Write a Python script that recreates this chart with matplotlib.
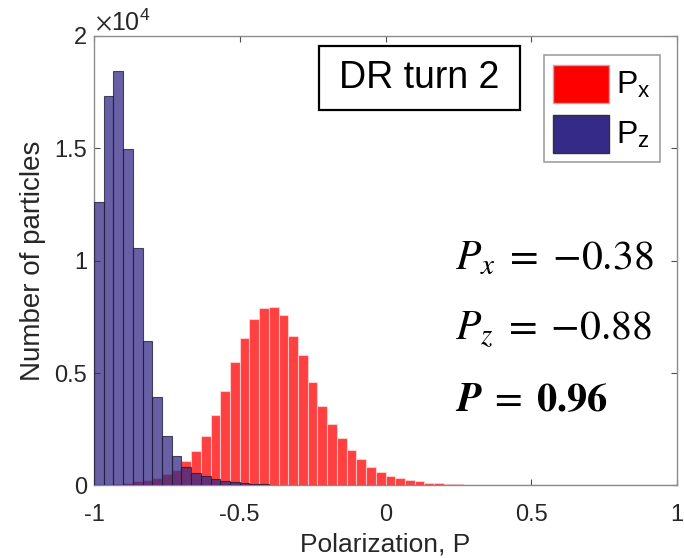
import numpy as np
import matplotlib
matplotlib.use("Agg")
import matplotlib.pyplot as plt
from matplotlib.patches import Patch, Rectangle

# histogram counts, 60 bins of width 1/30 between -1 and 1
bin_edges = np.linspace(-1, 1, 61)

counts_px = [20, 40, 80, 130, 180, 240, 340, 530, 700, 1070,
             1530, 2220, 3150, 4220, 5490, 6580, 7420, 7880, 7950, 7600,
             6650, 5810, 4590, 3530, 2740, 2130, 1560, 1160, 810, 620,
             420, 320, 240, 180, 130, 100, 70, 50, 35, 25,
             18, 12, 8, 5, 3, 0, 0, 0, 0, 0,
             0, 0, 0, 0, 0, 0, 0, 0, 0, 0]

counts_pz = [12600, 17330, 18460, 14960, 10550, 6440, 3920, 2180, 1310, 830,
             560, 400, 280, 200, 140, 100, 75, 55, 40, 30,
             22, 16, 12, 8, 6, 4, 3, 2, 1, 0,
             0, 0, 0, 0, 0, 0, 0, 0, 0, 0,
             0, 0, 0, 0, 0, 0, 0, 0, 0, 0,
             0, 0, 0, 0, 0, 0, 0, 0, 0, 0]

y_ticks = [0, 5000, 10000, 15000, 20000]
y_ticklabels = ["0", "0.5", "1", "1.5", "2"]
x_ticks = [-1, -0.5, 0, 0.5, 1]
x_ticklabels = ["-1", "-0.5", "0", "0.5", "1"]

red = (1.0, 0.0, 0.0)
navy = (0.2081, 0.1663, 0.5292)

plt.rcParams['font.family'] = ['Liberation Sans', 'DejaVu Sans']
plt.rcParams['mathtext.fontset'] = 'stix'

fig = plt.figure(figsize=(6.84, 5.58), dpi=100)
ax = fig.add_axes([0.1374, 0.130, 0.8524, 0.8055])

centers = 0.5 * (bin_edges[:-1] + bin_edges[1:])
width = bin_edges[1] - bin_edges[0]

ax.bar(centers, counts_px, width=width, color=red, alpha=0.75,
       edgecolor=(1, 0.85, 0.85), linewidth=0.8, zorder=2)
ax.bar(centers, counts_pz, width=width, color=navy, alpha=0.75,
       edgecolor=(0.1, 0.1, 0.2), linewidth=0.8, zorder=3)

ax.set_xlim(-1, 1)
ax.set_ylim(0, 20000)
ax.set_xticks(x_ticks)
ax.set_xticklabels(x_ticklabels)
ax.set_yticks(y_ticks)
ax.set_yticklabels(y_ticklabels)
ax.tick_params(direction='in', length=4, width=0.8, colors='#4d4d4d',
               labelsize=17, top=True, right=True)
ax.tick_params(axis='x', pad=13)
ax.tick_params(axis='y', pad=5)
for lbl in ax.get_xticklabels() + ax.get_yticklabels():
    lbl.set_color('#262626')
for sp in ax.spines.values():
    sp.set_color('#8c8c8c')
    sp.set_linewidth(1.0)

ax.set_xlabel("Polarization, P", fontsize=19, color='#262626', labelpad=5)
ax.set_ylabel("Number of particles", fontsize=20, color='#262626', labelpad=6)
fig.text(0.139, 0.946, r"$\times\mathregular{10^4}$", fontsize=18,
         color='#262626', ha='left', va='baseline')

# run label in a framed box
ax.add_patch(Rectangle((0.386, 0.835), 0.345, 0.143, transform=ax.transAxes,
                       fc='white', ec='black', lw=1.6, zorder=5))
ax.text(0.5585, 0.9065, "DR turn 2", fontsize=27, ha='center', va='center',
        transform=ax.transAxes, zorder=6)

handles = [Patch(facecolor=red, edgecolor='#b0b0b0'),
           Patch(facecolor=navy, edgecolor='#303030')]
leg = ax.legend(handles, [r"P$_\mathregular{x}$", r"P$_\mathregular{z}$"],
                loc='upper right', bbox_to_anchor=(0.9708, 0.9577),
                fontsize=23, handlelength=1.75, handleheight=1.45,
                handletextpad=0.2, labelspacing=0.38, borderpad=0.3,
                borderaxespad=0, fancybox=False, framealpha=1)
leg.get_frame().set_edgecolor('#a0a0a0')
leg.get_frame().set_linewidth(1.2)

# mean polarization values
ax.text(0.238, 10120, r"$P_x\;=\;{-0.38}$", fontsize=30, ha='left',
        va='center', color='black', zorder=5)
ax.text(0.238, 6920, r"$P_z\;=\;{-0.88}$", fontsize=30, ha='left',
        va='center', color='black', zorder=5)
ax.text(0.238, 3800, r"$\boldsymbol{P}\;=\;\mathbf{0.96}$", fontsize=29,
        ha='left', va='center', color='black', zorder=5)

fig.savefig("out.png", dpi=100)
